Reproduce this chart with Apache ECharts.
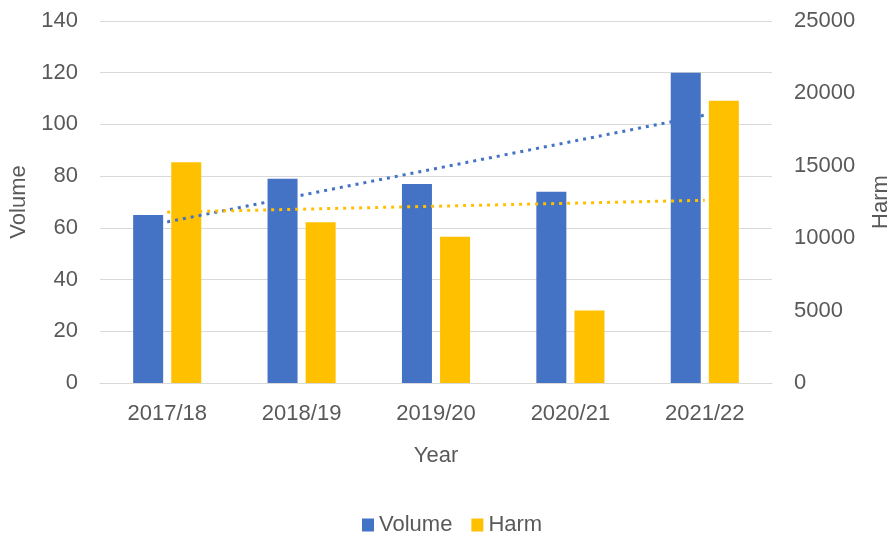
<!DOCTYPE html>
<html>
<head>
<meta charset="utf-8">
<script src="https://cdn.jsdelivr.net/npm/echarts@6/dist/echarts.min.js"></script>
<style>
html,body{margin:0;padding:0;background:#fff;overflow:hidden;}
#chart{width:892px;height:538px;}
</style>
</head>
<body>
<div id="chart"></div>
<script>
// ---- data ----
var categories = ['2017/18', '2018/19', '2019/20', '2020/21', '2021/22'];
var volumeValues = [65, 79, 77, 74, 120];
var harmValues = [15250, 11100, 10100, 5000, 19500];
// linear trend lines, endpoints
var volumeTrend = [62.3, null, null, null, 103.6];
var harmTrend = [11800, null, null, null, 12620];
var volumeTicks = [0, 140, 20];   // min, max, interval
var harmTicks = [0, 25000, 5000];

var FONT = 'Liberation Sans';
var TXT = '#595959';
var BLUE = '#4472C4';
var GOLD = '#FFC000';

var chart = echarts.init(document.getElementById('chart'), null, {renderer: 'canvas', width: 892, height: 538});
chart.setOption({
  animation: false,
  backgroundColor: '#ffffff',
  textStyle: {fontFamily: FONT, color: TXT},
  grid: {left: 100, right: 120, top: 21, bottom: 155, containLabel: false, outerBoundsMode: 'none'},
  legend: {
    data: ['Volume', 'Harm'],
    left: 357, top: 509,
    itemWidth: 12, itemHeight: 13, itemGap: 19,
    icon: 'rect',
    textStyle: {fontFamily: FONT, fontSize: 22, color: TXT}
  },
  xAxis: {
    type: 'category',
    data: categories,
    name: 'Year',
    nameLocation: 'middle',
    nameGap: 62,
    nameTextStyle: {fontFamily: FONT, fontSize: 22, color: TXT},
    axisLine: {show: true, lineStyle: {color: '#D9D9D9', width: 1}},
    axisTick: {show: false},
    axisLabel: {fontFamily: FONT, fontSize: 22, color: TXT, margin: 20}
  },
  yAxis: [{
    type: 'value',
    min: volumeTicks[0], max: volumeTicks[1], interval: volumeTicks[2],
    name: 'Volume',
    nameLocation: 'middle',
    nameRotate: 90,
    nameGap: 70,
    nameTextStyle: {fontFamily: FONT, fontSize: 22, color: TXT},
    axisLine: {show: false},
    axisTick: {show: false},
    axisLabel: {fontFamily: FONT, fontSize: 22, color: TXT, margin: 22},
    splitLine: {show: true, lineStyle: {color: '#D9D9D9', width: 1}}
  }, {
    type: 'value',
    position: 'right',
    min: harmTicks[0], max: harmTicks[1], interval: harmTicks[2],
    name: 'Harm',
    nameLocation: 'middle',
    nameRotate: 90,
    nameGap: 98,
    nameTextStyle: {fontFamily: FONT, fontSize: 22, color: TXT},
    axisLine: {show: false},
    axisTick: {show: false},
    axisLabel: {fontFamily: FONT, fontSize: 22, color: TXT, margin: 22,
      formatter: function (v) { return String(v); }},
    splitLine: {show: false}
  }],
  series: [{
    name: 'Volume',
    type: 'bar',
    yAxisIndex: 0,
    data: volumeValues,
    barWidth: 30,
    barGap: '27%',
    itemStyle: {color: BLUE}
  }, {
    name: 'Harm',
    type: 'bar',
    yAxisIndex: 1,
    data: harmValues,
    barWidth: 30,
    barGap: '27%',
    itemStyle: {color: GOLD}
  }, {
    name: 'Volume trend',
    type: 'line',
    yAxisIndex: 0,
    data: volumeTrend,
    connectNulls: true,
    symbol: 'none',
    silent: true,
    z: 5,
    lineStyle: {color: BLUE, width: 3, type: [3, 5], cap: 'butt'}
  }, {
    name: 'Harm trend',
    type: 'line',
    yAxisIndex: 1,
    data: harmTrend,
    connectNulls: true,
    symbol: 'none',
    silent: true,
    z: 5,
    lineStyle: {color: GOLD, width: 3, type: [3, 5], cap: 'butt'}
  }]
});
</script>
</body>
</html>
